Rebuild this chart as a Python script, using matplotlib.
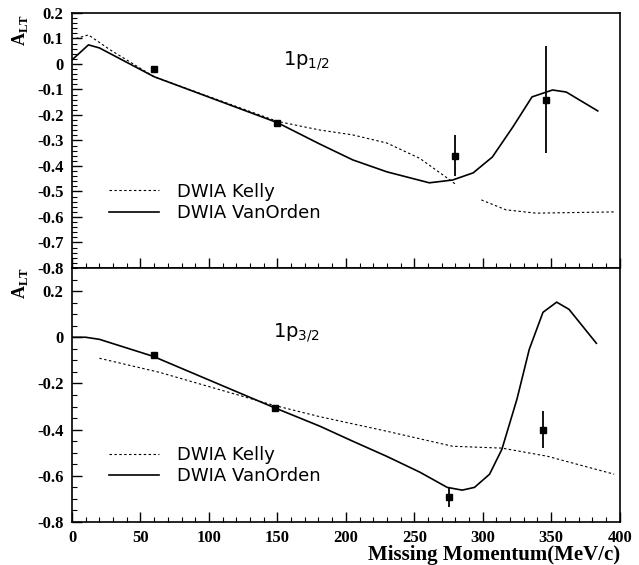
import numpy as np
import matplotlib
matplotlib.use("Agg")
import matplotlib.pyplot as plt
from matplotlib.ticker import MultipleLocator

plt.rcParams['mathtext.fontset'] = 'custom'
plt.rcParams['mathtext.rm'] = 'Liberation Serif'
plt.rcParams['mathtext.bf'] = 'Liberation Serif:bold'
plt.rcParams['mathtext.sf'] = 'DejaVu Sans'

# ---- 1p1/2 panel ----
p12_x = [60, 150, 280, 346]
p12_y = [-0.02, -0.23, -0.36, -0.14]
p12_err = [0.0, 0.0, 0.08, 0.21]

p12_vo_x = [0, 12, 20, 60, 150, 181, 205, 230, 261, 278, 293, 307, 322, 336, 351, 361, 384]
p12_vo_y = [0.016, 0.075, 0.063, -0.05, -0.23, -0.314, -0.376, -0.423, -0.466, -0.455,
            -0.427, -0.365, -0.247, -0.129, -0.102, -0.11, -0.184]

p12_ke_x1 = [3, 12, 28, 60, 150, 181, 205, 230, 254, 274, 281]
p12_ke_y1 = [0.10, 0.114, 0.055, -0.05, -0.225, -0.259, -0.278, -0.31, -0.37, -0.447, -0.475]
p12_ke_x2 = [299, 317, 339, 397]
p12_ke_y2 = [-0.533, -0.572, -0.585, -0.58]

# ---- 1p3/2 panel ----
p32_x = [60, 148, 275, 344]
p32_y = [-0.078, -0.307, -0.693, -0.40]
p32_err = [0.0, 0.0, 0.04, 0.08]

p32_vo_x = [0, 10, 20, 59, 147, 181, 205, 230, 254, 274, 285, 294, 305, 314, 325, 334,
            344, 354, 363, 383]
p32_vo_y = [0.0, 0.0, -0.009, -0.082, -0.303, -0.385, -0.45, -0.516, -0.584, -0.65,
            -0.662, -0.65, -0.593, -0.485, -0.268, -0.052, 0.108, 0.152, 0.121, -0.026]

p32_ke_x = [20, 64, 147, 181, 230, 278, 314, 347, 396]
p32_ke_y = [-0.091, -0.152, -0.294, -0.344, -0.407, -0.472, -0.48, -0.515, -0.593]

fig = plt.figure(figsize=(6.39, 5.65), dpi=100)
ax1 = fig.add_axes([0.1127, 0.5257, 0.857, 0.4513])
ax2 = fig.add_axes([0.1127, 0.0761, 0.857, 0.4496])

tickfont = dict(family='Liberation Serif', weight='bold', size=12)
legfont = dict(family='DejaVu Sans', size=13)
dash = (0, (2.2, 2.2))

# top panel
ax1.plot(p12_ke_x1, p12_ke_y1, color='k', lw=0.8, linestyle=dash, label='DWIA Kelly')
ax1.plot(p12_ke_x2, p12_ke_y2, color='k', lw=0.8, linestyle=dash)
ax1.plot(p12_vo_x, p12_vo_y, color='k', lw=1.2, label='DWIA VanOrden')
ax1.errorbar(p12_x, p12_y, yerr=p12_err, fmt='s', color='k', ms=5, elinewidth=1.3, capsize=0)
ax1.set_xlim(0, 400)
ax1.set_ylim(-0.8, 0.2)
ax1.yaxis.set_minor_locator(MultipleLocator(0.02))
ax1.text(154, -0.005, r'$\mathsf{1p_{1/2}}$', fontsize=14, ha='left', va='baseline')
ax1.legend(loc='lower left', bbox_to_anchor=(0.037, 0.115), frameon=False,
           prop=legfont, handlelength=2.8, handletextpad=1.0, labelspacing=0.2)

# bottom panel
ax2.plot(p32_ke_x, p32_ke_y, color='k', lw=0.8, linestyle=dash, label='DWIA Kelly')
ax2.plot(p32_vo_x, p32_vo_y, color='k', lw=1.2, label='DWIA VanOrden')
ax2.errorbar(p32_x, p32_y, yerr=p32_err, fmt='s', color='k', ms=5, elinewidth=1.3, capsize=0)
ax2.set_xlim(0, 400)
ax2.set_ylim(-0.8, 0.3)
ax2.yaxis.set_minor_locator(MultipleLocator(0.05))
ax2.text(147, 0.0, r'$\mathsf{1p_{3/2}}$', fontsize=14, ha='left', va='baseline')
ax2.legend(loc='lower left', bbox_to_anchor=(0.037, 0.08), frameon=False,
           prop=legfont, handlelength=2.8, handletextpad=1.0, labelspacing=0.2)
ax2.set_xlabel('Missing Momentum(MeV/c)', fontdict=dict(family='Liberation Serif',
               weight='bold', size=15), loc='right', labelpad=-1)

for ax in (ax1, ax2):
    ax.xaxis.set_major_locator(MultipleLocator(50))
    ax.xaxis.set_minor_locator(MultipleLocator(10))
    ax.tick_params(which='both', direction='in', top=False, right=False, pad=6)
    ax.tick_params(which='major', length=7, width=1)
    ax.tick_params(which='minor', length=3.5, width=0.8)
    for sp in ax.spines.values():
        sp.set_linewidth(1.2)

ax1.set_xticklabels([])
ax2.set_yticks([0.2, 0, -0.2, -0.4, -0.6, -0.8])
ax2.set_yticklabels(['0.2', '0', '-0.2', '-0.4', '-0.6', '-0.8'], fontdict=tickfont)
ax1.set_yticks(np.round(np.arange(-0.8, 0.21, 0.1), 1))
ax1.set_yticklabels(['-0.8', '-0.7', '-0.6', '-0.5', '-0.4', '-0.3', '-0.2', '-0.1', '0',
                     '0.1', '0.2'], fontdict=tickfont)
ax2.set_xticks([0, 50, 100, 150, 200, 250, 300, 350, 400])
ax2.set_xticklabels(['0', '50', '100', '150', '200', '250', '300', '350', '400'],
                    fontdict=tickfont)

fig.text(0.032, 0.975, r'$\mathbf{A}_{\mathbf{LT}}$', rotation=90, fontsize=13,
         ha='center', va='top')
fig.text(0.032, 0.528, r'$\mathbf{A}_{\mathbf{LT}}$', rotation=90, fontsize=13,
         ha='center', va='top')

fig.savefig('out.png', dpi=100)
